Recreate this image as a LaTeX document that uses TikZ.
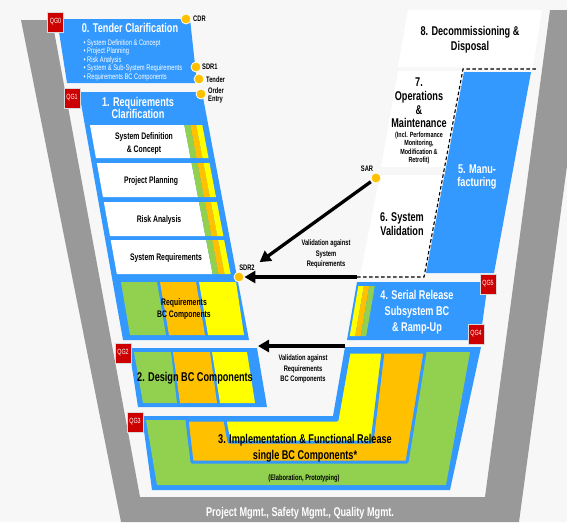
\documentclass[tikz,border=0pt]{standalone}
\usepackage{fontspec}
\setmainfont{Liberation Sans}[FakeStretch=0.72]
\usetikzlibrary{arrows.meta,calc}
\definecolor{vblue}{HTML}{3399FF}
\definecolor{vgreen}{HTML}{92D050}
\definecolor{vorange}{HTML}{FFC000}
\definecolor{vyellow}{HTML}{FFFF00}
\definecolor{vgray}{HTML}{999999}
\definecolor{qgred}{HTML}{CC0000}
\definecolor{msgold}{HTML}{FFC000}
\definecolor{bggray}{HTML}{F7F7F7}
\tikzset{
  qg/.style={fill=qgred, draw=white!70!gray, line width=0.6pt, minimum width=16pt,
    minimum height=20pt, inner sep=0pt, text=white, font=\fontsize{7.5}{8}\selectfont},
  ms/.style={circle, fill=msgold, draw=white, line width=0.8pt, minimum size=10pt, inner sep=0pt},
  mslab/.style={font=\bfseries\fontsize{8}{8.5}\selectfont, align=left, inner sep=0pt},
  ttl/.style={font=\bfseries\fontsize{12.7}{13.5}\selectfont, align=center, inner sep=0pt},
  boxlab/.style={font=\bfseries\fontsize{9.5}{12.5}\selectfont, align=center, inner sep=0pt},
  smalllab/.style={font=\bfseries\fontsize{8}{10.5}\selectfont, align=center, inner sep=0pt},
  bigarrow/.style={-{Triangle[length=11pt,width=12pt]}, line width=3.3pt, black},
  sep/.style={draw=vblue, line width=3pt, line join=round},
}
\begin{document}
\begin{tikzpicture}[x=1pt,y=-1pt]
  \useasboundingbox (0,0) rectangle (567,522);
  \fill[bggray] (0,0) rectangle (567,522);
  % gray frame
  \fill[vgray] (21,20) -- (52,20) -- (140,497) -- (485,497) -- (550,10) -- (588,10)
    -- (519,522) -- (121,522) -- cycle;

  % 0. tender clarification
  \fill[vblue] (57,19) -- (190,19) -- (197,83) -- (67,83) -- cycle;

  % 1. requirements clarification
  \fill[vblue] (79,92) -- (202,92) -- (249,340) -- (123,340) -- cycle;
  \foreach \t/\b in {125/158,163/197,202/236,240/274}{
    \fill[white] ({90+0.18*(\t-125)},\t) -- ({178+0.19*(\t-92)},\t)
      -- ({178+0.19*(\b-92)},\b) -- ({90+0.18*(\b-125)},\b) -- cycle;
    \foreach \col [count=\k from 0] in {vgreen,vorange,vyellow}
      \fill[\col] ({178+6*\k+0.19*(\t-92)},\t) -- ({184+6*\k+0.19*(\t-92)},\t)
        -- ({184+6*\k+0.19*(\b-92)},\b) -- ({178+6*\k+0.19*(\b-92)},\b) -- cycle;
  }
  \foreach \col/\a/\b/\cc/\d in {vgreen/121/157/166/130, vorange/160/196/205/169, vyellow/199/236/244/208}
    \fill[\col] (\a,282) -- (\b,282) -- (\cc,335) -- (\d,335) -- cycle;

  % 2. design
  \fill[vblue] (129,348) -- (257,348) -- (267,407) -- (138,407) -- cycle;
  \foreach \col/\a/\b/\cc/\d in {vgreen/134/171/177/143, vorange/173/210/217/180, vyellow/212/247/255/220}
    \fill[\col] (\a,352) -- (\b,352) -- (\cc,403) -- (\d,403) -- cycle;

  % 3. implementation
  \fill[vblue] (142,416) -- (333,416) -- (345,347) -- (481,347) -- (450,490) -- (152,490) -- cycle;
  \fill[vgreen] (146,420) -- (337,420) -- (349,352) -- (470,352) -- (446,485) -- (157,485) -- cycle;
  \filldraw[sep, fill=vorange] (187,420) -- (337,420) -- (349,352) -- (425,352) -- (407,462) -- (192,462) -- cycle;
  \filldraw[sep, fill=vyellow] (225,420) -- (337,420) -- (349,352) -- (383,352) -- (372,442) -- (229,442) -- cycle;

  % 4. serial release
  \fill[vblue] (357,282) -- (488,282) -- (480,340) -- (347,340) -- cycle;
  \foreach \col [count=\k from 0] in {vyellow,vorange,vgreen}
    \fill[\col] ({358.3+5.5*\k},286) -- ({363.8+5.5*\k},286)
      -- ({355.2+5.5*\k},336) -- ({349.7+5.5*\k},336) -- cycle;

  % 5. manufacturing
  \fill[vblue] (464,72) -- (531,72) -- (494,273) -- (426,273) -- cycle;

  % 6. - 8.
  \fill[white] (408,10) -- (542,10) -- (533,67) -- (398,67) -- cycle;
  \fill[white] (398,71) -- (462.6,71) -- (444.6,167) -- (381,167) -- cycle;
  \fill[white] (380,175) -- (443.1,175) -- (424.7,276) -- (360,276) -- cycle;

  \coordinate (v1) at (357,277);
  \coordinate (v2) at (345,346);
  \coordinate (d2) at (258,346);
  \draw[black, line width=1.1pt, dash pattern=on 3.5pt off 2.5pt]
    (v1) -- (424,277) -- (463,69) -- (537,69);

  % milestones
  \node[ms] (cdr) at (186,19) {};
  \node[ms] (sdr1) at (196,67) {};
  \node[ms] (tender) at (199,79) {};
  \node[ms] (order) at (201,94) {};
  \node[ms] (sdr2) at (239,277) {};
  \node[ms] (sar) at (376,178) {};
  \node[mslab, anchor=west] (cdrl) at (193,19) {CDR};
  \node[mslab, anchor=west] (sdr1l) at (202,67) {SDR1};
  \node[mslab, anchor=west] (tenderl) at (206,80) {Tender};
  \node[mslab, anchor=west, font=\bfseries\fontsize{8}{8}\selectfont] (orderl) at (208,95) {Order\\Entry};
  \node[mslab] (sdr2l) at (247,268) {SDR2};
  \node[mslab] (sarl) at (367,169) {SAR};

  % validation arrows
  \draw[bigarrow, shorten <=1pt, shorten >=20pt] (sar) -- (sdr2);
  \draw[bigarrow] (v1) -- (sdr2);
  \draw[bigarrow] (v2) -- (d2);
  \node[smalllab] (val1) at (326,254) {Validation against\\System\\Requirements};
  \node[smalllab] (val2) at (303,369) {Validation against\\Requirements\\BC Components};

  % quality gates
  \node[qg] (qg0) at (55.5,22) {QG0};
  \node[qg] (qg1) at (72,98) {QG1};
  \node[qg] (qg2) at (123,353) {QG2};
  \node[qg] (qg3) at (135,422) {QG3};
  \node[qg] (qg4) at (476,334) {QG4};
  \node[qg] (qg5) at (488,284) {QG5};

  % stage texts
  \node[ttl, white] (t0) at (130,28) {0. Tender Clarification};
  \node[anchor=west, align=left, white, font=\fontsize{8}{8.5}\selectfont] (t0list) at (80,60)
    {\textbullet\ System Definition \& Concept\\\textbullet\ Project Planning\\\textbullet\ Risk Analysis\\
     \textbullet\ System \& Sub-System Requirements\\\textbullet\ Requirements BC Components};
  \node[ttl, white, font=\bfseries\fontsize{12.7}{12}\selectfont] (t1) at (138,108) {1. Requirements\\Clarification};
  \node[boxlab] (b1) at (144,143.5) {System Definition\\\& Concept};
  \node[boxlab] (b2) at (151,181) {Project Planning};
  \node[boxlab] (b3) at (159,220) {Risk Analysis};
  \node[boxlab] (b4) at (166,258) {System Requirements};
  \node[boxlab, font=\bfseries\fontsize{9.5}{12}\selectfont] (rbc) at (184,309) {Requirements\\BC Components};
  \node[ttl] (t2) at (195,378) {2. Design BC Components};
  \node[ttl] (t3) at (305,448) {3. Implementation \& Functional Release\\[3pt]single BC Components*};
  \node[smalllab] (t3sub) at (304,478) {(Elaboration, Prototyping)};
  \node[ttl, white] (t4) at (417,312) {4. Serial Release\\[3pt]Subsystem BC\\[2pt]\& Ramp-Up};
  \node[ttl, white] (t5) at (477,177) {5. Manu-\\facturing};
  \node[ttl] (t6) at (402,224) {6. System\\Validation};
  \node[ttl, font=\bfseries\fontsize{12.7}{13.7}\selectfont] (t7) at (419,103) {7.\\Operations\\\&\\Maintenance};
  \node[smalllab, font=\bfseries\fontsize{7.5}{8.2}\selectfont] (t7sub) at (419,148)
    {(Incl. Performance\\Monitoring,\\Modification \&\\Retrofit)};
  \node[ttl, font=\bfseries\fontsize{12.7}{15}\selectfont] (t8) at (470,40) {8. Decommissioning \&\\Disposal};
  \node[ttl, white] (mgmt) at (300,513) {Project Mgmt., Safety Mgmt., Quality Mgmt.};
\end{tikzpicture}
\end{document}
